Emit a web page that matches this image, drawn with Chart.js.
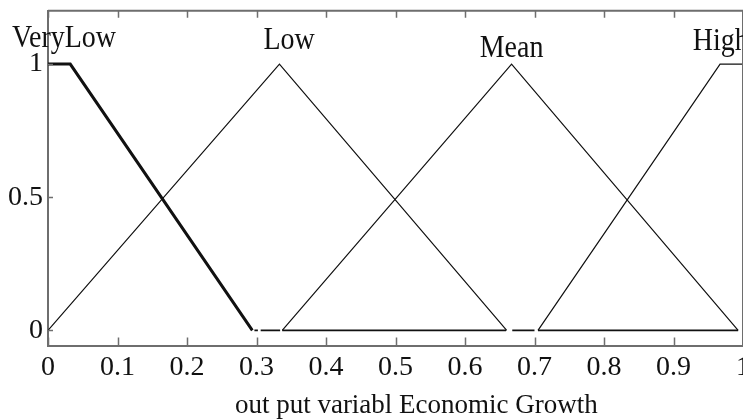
<!DOCTYPE html>
<html>
<head>
<meta charset="utf-8">
<script src="https://cdn.jsdelivr.net/npm/chart.js@4.4.1/dist/chart.umd.min.js"></script>
<style>
  html, body { margin: 0; padding: 0; background: #fff; overflow: hidden; }
  #wrap { width: 754px; height: 430px; margin-top: -11px; }
</style>
</head>
<body>
<div id="wrap"><canvas id="mfChart"></canvas></div>
<script>
// membership functions
const setNames = ["VeryLow", "Low", "Mean", "High"];
const veryLowX = [0, 0.032, 0.294];
const veryLowY = [1, 1, 0];
const lowX = [0, 0.333, 0.66];
const lowY = [0, 1, 0];
const meanX = [0.337, 0.667, 0.993];
const meanY = [0, 1, 0];
const highX = [0.705, 0.967, 1];
const highY = [0, 1, 1];
// pieces of the zero line that are drawn
const zeroFrom = [0.297, 0.306, 0.337, 0.668, 0.705];
const zeroTo = [0.302, 0.334, 0.659, 0.7, 0.993];
const xTicks = [0, 0.1, 0.2, 0.3, 0.4, 0.5, 0.6, 0.7, 0.8, 0.9, 1];
const yTicks = [0, 0.5, 1];
const axisTitle = "out put variabl Economic Growth";

// where the set names sit (data units)
const nameAnchors = [
  { x: 0.023, y: 1.064 },
  { x: 0.347, y: 1.056 },
  { x: 0.667, y: 1.026 },
  { x: 0.968, y: 1.052 },
];

const serif = "'Liberation Serif', 'Times New Roman', serif";
const frameColor = "#6e6e6e";

function pts(xs, ys) {
  return xs.map((x, i) => ({ x: x, y: ys[i] }));
}

const zeroPts = [];
zeroFrom.forEach((a, i) => {
  zeroPts.push({ x: a, y: 0 }, { x: zeroTo[i], y: 0 });
  zeroPts.push({ x: zeroTo[i], y: null });
});

const decor = {
  id: "decor",
  afterDraw(chart) {
    const ctx = chart.ctx;
    const a = chart.chartArea;
    const xs = chart.scales.x;
    const ys = chart.scales.y;
    ctx.save();
    ctx.strokeStyle = frameColor;
    ctx.lineWidth = 2;
    ctx.beginPath();
    ctx.moveTo(a.left, a.top);
    ctx.lineTo(a.right, a.top);
    ctx.lineTo(a.right, a.bottom);
    ctx.stroke();
    ctx.lineWidth = 1.5;
    ctx.beginPath();
    xTicks.forEach((v) => {
      const px = Math.round(xs.getPixelForValue(v)) + 0.5;
      ctx.moveTo(px, a.bottom);
      ctx.lineTo(px, a.bottom - 9);
      ctx.moveTo(px, a.top);
      ctx.lineTo(px, a.top + 7);
    });
    yTicks.forEach((v) => {
      const py = Math.round(ys.getPixelForValue(v)) + 0.5;
      ctx.moveTo(a.left, py);
      ctx.lineTo(a.left + 5, py);
    });
    ctx.stroke();

    ctx.fillStyle = "#111";
    ctx.font = "28px " + serif;
    ctx.textAlign = "center";
    ctx.textBaseline = "alphabetic";
    setNames.forEach((name, i) => {
      const p = nameAnchors[i];
      ctx.save();
      ctx.translate(xs.getPixelForValue(p.x), ys.getPixelForValue(p.y));
      ctx.scale(1, 1.15);
      ctx.fillText(name, 0, 0);
      ctx.restore();
    });
    ctx.font = "27px " + serif;
    ctx.fillText(axisTitle, xs.getPixelForValue(0.53), a.bottom + 67);
    ctx.restore();
  },
};

const line = (label, data, width) => ({
  label: label,
  data: data,
  borderColor: "#111",
  borderWidth: width,
  pointRadius: 0,
  fill: false,
  tension: 0,
  spanGaps: false,
});

new Chart(document.getElementById("mfChart"), {
  type: "line",
  data: {
    datasets: [
      line("VeryLow", pts(veryLowX, veryLowY), 3),
      line("Low", pts(lowX, lowY), 1.2),
      line("Mean", pts(meanX, meanY), 1.2),
      line("High", pts(highX, highY), 1.2),
      line("zero", zeroPts, 1.6),
    ],
  },
  options: {
    responsive: true,
    maintainAspectRatio: false,
    animation: false,
    layout: { padding: { left: 3, right: 8, top: 9, bottom: 31 } },
    plugins: { legend: { display: false }, tooltip: { enabled: false } },
    scales: {
      x: {
        type: "linear",
        min: 0,
        max: 1,
        afterBuildTicks: (s) => { s.ticks = xTicks.map((v) => ({ value: v })); },
        grid: { display: false, drawTicks: false },
        border: { display: true, color: frameColor, width: 2 },
        ticks: {
          color: "#111",
          padding: 4,
          maxRotation: 0,
          autoSkip: false,
          font: { family: serif, size: 28 },
          callback: (v) => String(Math.round(v * 10) / 10),
        },
      },
      y: {
        type: "linear",
        min: -0.06,
        max: 1.2,
        afterBuildTicks: (s) => { s.ticks = yTicks.map((v) => ({ value: v })); },
        grid: { display: false, drawTicks: false },
        border: { display: true, color: frameColor, width: 2 },
        ticks: {
          color: "#111",
          padding: 5,
          font: { family: serif, size: 28 },
          callback: (v) => String(v),
        },
      },
    },
  },
  plugins: [decor],
});
</script>
</body>
</html>
